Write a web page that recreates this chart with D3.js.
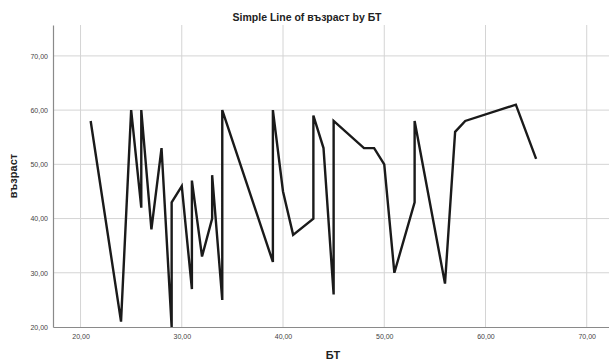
<!DOCTYPE html>
<html>
<head>
<meta charset="utf-8">
<script src="https://cdn.jsdelivr.net/npm/d3@7"></script>
<style>
  body { margin: 0; background: #fff; }
  text { font-family: "Liberation Sans", Arial, sans-serif; }
</style>
</head>
<body>
<script>
// data
var bt = [21, 24, 25, 26, 26, 27, 28, 29, 29, 30, 31, 31, 32, 33, 33, 34, 34, 39, 39, 40, 41, 43, 43, 44, 45, 45, 48, 49, 50, 51, 53, 53, 56, 57, 58, 63, 65];
var vazrast = [58, 21, 60, 42, 60, 38, 53, 20, 43, 46, 27, 47, 33, 40, 48, 25, 60, 32, 60, 45, 37, 40, 59, 53, 26, 58, 53, 53, 50, 30, 43, 58, 28, 56, 58, 61, 51];
var xTicks = [20, 30, 40, 50, 60, 70];
var yTicks = [20, 30, 40, 50, 60, 70];

var w = 609, h = 364;
var m = {top: 25, right: 0, bottom: 37, left: 53};

var loc = d3.formatLocale({decimal: ",", thousands: " ", grouping: [3], currency: ["", ""]});
var fmt = loc.format(".2f");

var svg = d3.select("body").append("svg")
  .attr("width", w)
  .attr("height", h);

var x = d3.scaleLinear().domain([17.28, 72.2]).range([m.left, w - m.right]);
var y = d3.scaleLinear().domain([20, 75.7]).range([h - m.bottom, m.top]);

// grid
svg.append("g").selectAll("line.v")
  .data(xTicks).enter().append("line")
  .attr("x1", d => x(d)).attr("x2", d => x(d))
  .attr("y1", m.top).attr("y2", h - m.bottom)
  .attr("stroke", "#d4d4d4").attr("stroke-width", 1);

svg.append("g").selectAll("line.h")
  .data(yTicks.slice(1)).enter().append("line")
  .attr("x1", m.left).attr("x2", w)
  .attr("y1", d => y(d)).attr("y2", d => y(d))
  .attr("stroke", "#d4d4d4").attr("stroke-width", 1);

// axes
var xAxis = svg.append("g")
  .attr("transform", "translate(0," + (h - m.bottom) + ")")
  .call(d3.axisBottom(x).tickValues(xTicks).tickFormat(fmt).tickSize(0).tickPadding(7));
var yAxis = svg.append("g")
  .attr("transform", "translate(" + m.left + ",0)")
  .call(d3.axisLeft(y).tickValues(yTicks).tickFormat(fmt).tickSize(0).tickPadding(5));

[xAxis, yAxis].forEach(function(a) {
  a.select(".domain").attr("stroke", "#8a8a8a").attr("stroke-width", 1.2);
  a.selectAll("text").attr("font-size", "7px").attr("fill", "#444")
    .style("font-family", "'Liberation Sans', Arial, sans-serif");
});

// line
var line = d3.line()
  .x(function(d, i) { return x(bt[i]); })
  .y(function(d, i) { return y(vazrast[i]); });

svg.append("path")
  .datum(bt)
  .attr("d", line)
  .attr("fill", "none")
  .attr("stroke", "#1a1a1a")
  .attr("stroke-width", 2.4)
  .attr("stroke-linejoin", "miter");

// titles
svg.append("text")
  .attr("x", 307).attr("y", 21)
  .attr("text-anchor", "middle")
  .attr("font-size", "10.5px").attr("font-weight", "bold").attr("fill", "#222")
  .text("Simple Line of възраст by БТ");

svg.append("text")
  .attr("x", (m.left + w) / 2 + 2).attr("y", 359)
  .attr("text-anchor", "middle")
  .attr("font-size", "11px").attr("font-weight", "bold").attr("fill", "#222")
  .text("БТ");

svg.append("text")
  .attr("transform", "translate(17," + ((m.top + h - m.bottom) / 2) + ") rotate(-90)")
  .attr("text-anchor", "middle")
  .attr("font-size", "11px").attr("font-weight", "bold").attr("fill", "#222")
  .text("възраст");
</script>
</body>
</html>
